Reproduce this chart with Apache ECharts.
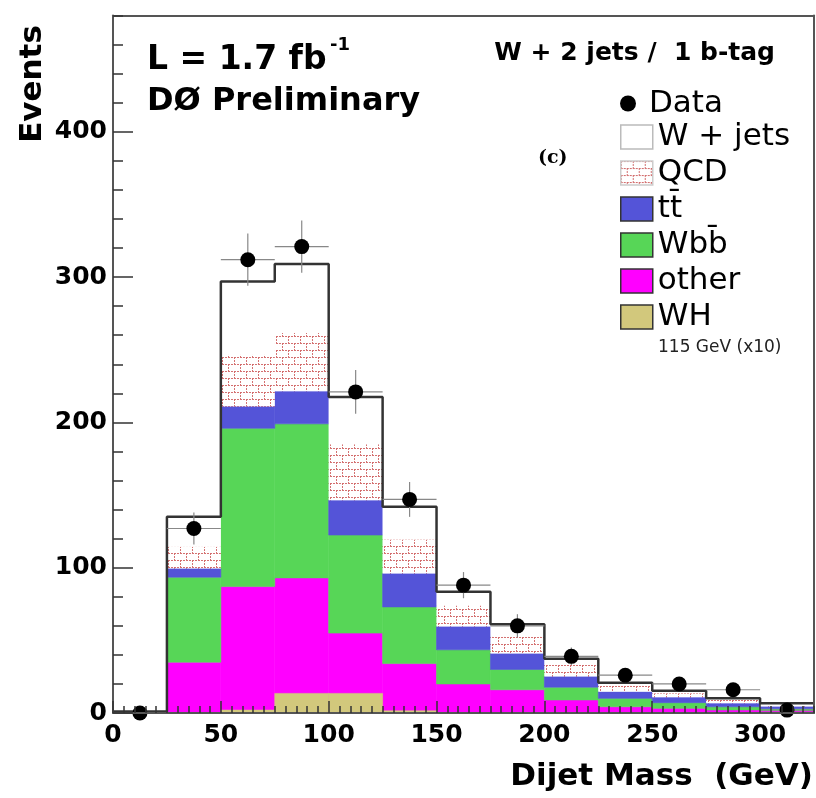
<!DOCTYPE html>
<html>
<head>
<meta charset="utf-8">
<script src="https://cdn.jsdelivr.net/npm/echarts@6/dist/echarts.min.js"></script>
<style>
html, body { margin: 0; padding: 0; background: #fff; }
#chart { width: 816px; height: 798px; }
</style>
</head>
<body>
<div id="chart"></div>
<script>
// bin low edges in GeV, each bin is 25 GeV wide
const binLow = [0, 25, 50, 75, 100, 125, 150, 175, 200, 225, 250, 275, 300];
const binWidth = 25;

// stacked backgrounds, bottom to top
const other = [0, 35, 87, 93, 55, 34, 20, 16, 9, 4.3, 3.2, 2.1, 1.5];
const wbb   = [0, 58.5, 109, 106, 67.5, 39, 23.5, 14, 8.8, 5.8, 3.9, 2.2, 1.5];
const ttbar = [0, 6, 15, 22.5, 24, 23, 16, 11, 7.3, 4.6, 3.7, 2.4, 1.5];
const qcd   = [0, 15, 35.5, 40, 38.5, 23.5, 14.5, 11.5, 8, 4.1, 2.8, 2.2, 1.2];
const wjets = [1, 20.5, 50.5, 47.5, 32.5, 22.5, 9.5, 8.5, 4.2, 2.1, 1.7, 1.2, 1.0];
// WH 115 GeV signal (x10), overlaid, not stacked
const wh    = [0, 0, 2, 13.5, 13.5, 1.5, 0, 0, 0, 0, 0, 0, 0];

const data    = [0, 127, 312, 321, 221, 147, 88, 60, 39, 26, 20, 16, 2];
const dataErr = [0, 11, 18, 18, 15, 12, 9, 8, 6, 5, 4.5, 4, 1.4];

const xTicks = { min: 0, max: 325, step: 50 };
const yTicks = { min: 0, max: 480, step: 100 };

// brick hatch for QCD
const brick = document.createElement('canvas');
brick.width = 12; brick.height = 14;
(function () {
  const c = brick.getContext('2d');
  c.fillStyle = '#fff';
  c.fillRect(0, 0, 12, 14);
  c.strokeStyle = 'rgba(210,105,105,0.95)';
  c.lineWidth = 1;
  c.setLineDash([2, 1]);
  c.beginPath();
  c.moveTo(0, 0.5); c.lineTo(12, 0.5);
  c.moveTo(0, 7.5); c.lineTo(12, 7.5);
  c.moveTo(0.5, 0); c.lineTo(0.5, 7);
  c.moveTo(6.5, 7); c.lineTo(6.5, 14);
  c.stroke();
})();
const brickFill = { image: brick, repeat: 'repeat' };

const layers = [
  { name: 'other', vals: other, color: '#ff00ff' },
  { name: 'Wbb\u0304', vals: wbb, color: '#57d657' },
  { name: 'tt\u0304', vals: ttbar, color: '#5454d8' },
  { name: 'QCD', vals: qcd, color: brickFill },
  { name: 'W + jets', vals: wjets, color: '#ffffff' }
];

function rectRender(fill, edge) {
  return function (params, api) {
    const p0 = api.coord([api.value(0), api.value(2)]);
    const p1 = api.coord([api.value(1), api.value(3)]);
    return {
      type: 'rect',
      shape: { x: p0[0], y: p1[1], width: p1[0] - p0[0], height: p0[1] - p1[1] },
      style: edge ? { fill: fill, stroke: fill, lineWidth: 0.6 } : { fill: fill }
    };
  };
}

const base = binLow.map(() => 0);
const series = [];
layers.forEach(function (l) {
  const items = binLow.map(function (lo, i) {
    const b = base[i];
    base[i] += l.vals[i];
    return [lo, lo + binWidth, b, base[i]];
  });
  series.push({
    name: l.name,
    type: 'custom',
    z: 2,
    silent: true,
    encode: { x: [0, 1], y: [2, 3] },
    itemStyle: { color: l.color, borderColor: '#333', borderWidth: 1.5 },
    renderItem: rectRender(l.color, typeof l.color === 'string' && l.color !== '#ffffff'),
    data: items
  });
});

series.push({
  name: 'WH',
  type: 'custom',
  z: 3,
  silent: true,
  encode: { x: [0, 1], y: [2, 3] },
  itemStyle: { color: '#d2c87c', borderColor: '#333', borderWidth: 1.5 },
  renderItem: rectRender('#d2c87c', true),
  data: binLow.map((lo, i) => [lo, lo + binWidth, 0, wh[i]])
});

// outline of the total
const stepPts = binLow.map((lo, i) => [lo, base[i]]);
stepPts.push([binLow[binLow.length - 1] + binWidth, base[base.length - 1]]);
series.push({
  type: 'line',
  step: 'end',
  z: 4,
  silent: true,
  showSymbol: false,
  lineStyle: { color: '#333', width: 2.5 },
  data: stepPts
});

// data error bars
series.push({
  type: 'custom',
  z: 5,
  silent: true,
  encode: { x: 0, y: 1 },
  renderItem: function (params, api) {
    const x = api.value(0), y = api.value(1), e = api.value(2);
    const l = api.coord([x - binWidth / 2, y]);
    const r = api.coord([x + binWidth / 2, y]);
    const t = api.coord([x, y + e]);
    const b = api.coord([x, y - e]);
    const st = { stroke: '#888', lineWidth: 1.2 };
    return {
      type: 'group',
      children: [
        { type: 'line', shape: { x1: l[0], y1: l[1], x2: r[0], y2: r[1] }, style: st },
        { type: 'line', shape: { x1: t[0], y1: t[1], x2: b[0], y2: b[1] }, style: st }
      ]
    };
  },
  data: binLow.map((lo, i) => [lo + binWidth / 2, data[i], dataErr[i]])
});

series.push({
  name: 'Data',
  type: 'scatter',
  z: 6,
  silent: true,
  symbol: 'circle',
  symbolSize: 15,
  itemStyle: { color: '#000', opacity: 1 },
  data: binLow.map((lo, i) => [lo + binWidth / 2, data[i]])
});

const tickLine = { color: '#333', width: 1.5 };
const frameLine = { color: '#555', width: 2 };
const labelFont = { fontFamily: 'DejaVu Sans', fontWeight: 'bold', fontSize: 25, color: '#000' };
const legendText = { fontFamily: 'DejaVu Sans', fontSize: 31, color: '#000', lineHeight: 30 };

const chart = echarts.init(document.getElementById('chart'), null, { renderer: 'canvas' });
chart.setOption({
  backgroundColor: '#fff',
  animation: false,
  grid: { left: 113, right: 2, top: 15.6, bottom: 85 },
  xAxis: [
    {
      type: 'value', min: xTicks.min, max: xTicks.max, interval: xTicks.step, position: 'bottom', z: 10,
      axisLine: { onZero: false, lineStyle: frameLine },
      axisTick: { inside: true, length: 12, lineStyle: tickLine },
      axisLabel: Object.assign({ showMaxLabel: false, margin: 10 }, labelFont),
      splitLine: { show: false }
    },
    {
      type: 'value', min: xTicks.min, max: xTicks.max, interval: 5, position: 'bottom', z: 10,
      axisLine: { show: false },
      axisTick: { inside: true, length: 7, lineStyle: tickLine },
      axisLabel: { show: false },
      splitLine: { show: false }
    },
    {
      type: 'value', min: xTicks.min, max: xTicks.max, position: 'top', z: 10,
      axisLine: { show: true, onZero: false, lineStyle: frameLine },
      axisTick: { show: false }, axisLabel: { show: false }, splitLine: { show: false }
    }
  ],
  yAxis: [
    {
      type: 'value', min: yTicks.min, max: yTicks.max, interval: yTicks.step, position: 'left', z: 10,
      axisLine: { show: true, onZero: false, lineStyle: frameLine },
      axisTick: { show: true, inside: true, length: 20, lineStyle: tickLine },
      axisLabel: Object.assign({ showMaxLabel: false, margin: 6 }, labelFont),
      splitLine: { show: false }
    },
    {
      type: 'value', min: yTicks.min, max: yTicks.max, interval: 20, position: 'left', z: 10,
      axisLine: { show: false },
      axisTick: { show: true, inside: true, length: 10, lineStyle: tickLine },
      axisLabel: { show: false }, splitLine: { show: false }
    },
    {
      type: 'value', min: yTicks.min, max: yTicks.max, position: 'right', z: 10,
      axisLine: { show: true, onZero: false, lineStyle: frameLine },
      axisTick: { show: false }, axisLabel: { show: false }, splitLine: { show: false }
    }
  ],
  legend: [
    {
      data: ['Data'],
      left: 620, top: 88, padding: 0,
      orient: 'vertical', selectedMode: false,
      icon: 'circle', itemWidth: 32, itemHeight: 16,
      textStyle: legendText
    },
    {
      data: [
        { name: 'W + jets', itemStyle: { borderColor: '#bbb' } },
        { name: 'QCD', itemStyle: { borderColor: '#ccc' } },
        'tt\u0304', 'Wbb\u0304', 'other', 'WH'
      ],
      left: 620, top: 121.5, padding: 0,
      orient: 'vertical', selectedMode: false,
      icon: 'rect', itemWidth: 32, itemHeight: 24, itemGap: 5,
      itemStyle: { borderColor: '#333', borderWidth: 1.5 },
      textStyle: legendText
    }
  ],
  graphic: [
    { type: 'text', x: 147, y: 60, style: { text: 'L = 1.7 fb', font: 'bold 33px "DejaVu Sans"', fill: '#000', verticalAlign: 'middle' } },
    { type: 'text', x: 330, y: 45, style: { text: '-1', font: 'bold 18px "DejaVu Sans"', fill: '#000', verticalAlign: 'middle' } },
    { type: 'text', x: 147, y: 102, style: { text: 'DØ Preliminary', font: 'bold 32px "DejaVu Sans"', fill: '#000', verticalAlign: 'middle' } },
    { type: 'text', x: 775, y: 53, style: { text: 'W + 2 jets /  1 b-tag', font: 'bold 25px "DejaVu Sans"', fill: '#000', align: 'right', verticalAlign: 'middle' } },
    { type: 'text', x: 538, y: 158, style: { text: '(c)', font: 'bold 19px "DejaVu Serif"', fill: '#000', verticalAlign: 'middle' } },
    { type: 'text', x: 658, y: 348, style: { text: '115 GeV (x10)', font: '17px "DejaVu Sans"', fill: '#222', verticalAlign: 'middle' } },
    { type: 'text', x: 33, y: 84, rotation: Math.PI / 2, style: { text: 'Events', font: 'bold 31px "DejaVu Sans"', fill: '#000', align: 'center', verticalAlign: 'middle' } },
    { type: 'text', x: 813, y: 777, style: { text: 'Dijet Mass  (GeV)', font: 'bold 31px "DejaVu Sans"', fill: '#000', align: 'right', verticalAlign: 'middle' } }
  ],
  series: series
});
</script>
</body>
</html>
